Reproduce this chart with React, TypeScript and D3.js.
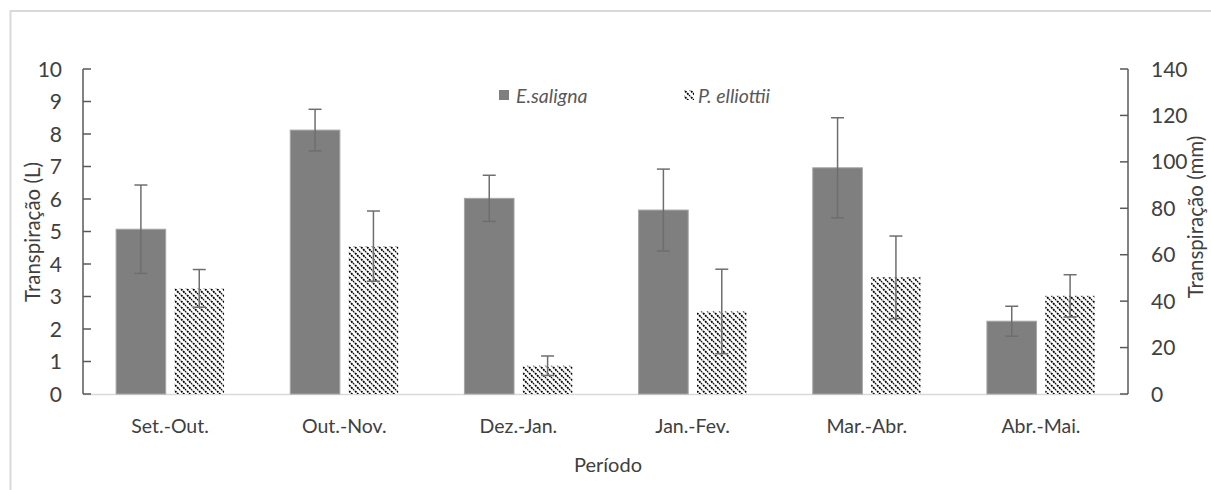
import React from "react";
import * as d3 from "d3";

const periods = ["Set.-Out.", "Out.-Nov.", "Dez.-Jan.", "Jan.-Fev.", "Mar.-Abr.", "Abr.-Mai."];
const seriesNames = ["E.saligna", "P. elliottii"];
const salignaValues = [5.07, 8.12, 6.02, 5.66, 6.96, 2.24];
const salignaErrors = [1.36, 0.64, 0.71, 1.26, 1.54, 0.46];
const elliottiiValues = [3.25, 4.55, 0.87, 2.54, 3.59, 3.02];
const elliottiiErrors = [0.58, 1.08, 0.3, 1.3, 1.27, 0.65];
const leftTicks = [0, 1, 2, 3, 4, 5, 6, 7, 8, 9, 10];
const rightTicks = [0, 20, 40, 60, 80, 100, 120, 140];

const W = 1211;
const H = 490;
const FONT = "Lato, 'Open Sans', sans-serif";
const TEXT = "#404040";
const AXIS = "#595959";

export default function App() {
  const left = 83;
  const right = 1128;
  const top = 69;
  const bottom = 394;

  const x = d3.scaleBand<string>().domain(periods).range([left, right]).paddingInner(0.38).paddingOuter(0.19);
  const xs = d3.scaleBand<string>().domain(seriesNames).range([0, x.bandwidth()]).paddingInner(0.15).paddingOuter(0);
  const yL = d3.scaleLinear().domain([0, 10]).range([bottom, top]);
  const yR = d3.scaleLinear().domain([0, 140]).range([bottom, top]);

  const series = [
    { name: seriesNames[0], values: salignaValues, errors: salignaErrors, fill: "#7f7f7f", stroke: "#a6a6a6" },
    { name: seriesNames[1], values: elliottiiValues, errors: elliottiiErrors, fill: "url(#hatch)", stroke: "none" },
  ];

  return (
    <svg width={W} height={H} style={{ position: "absolute", left: 0, top: 0, background: "#fff" }} fontFamily={FONT}>
      <defs>
        <pattern id="hatch" patternUnits="userSpaceOnUse" width="6" height="6">
          <rect width="6" height="6" fill="#fff" />
          <path d="M-1,-1 L7,7 M-4,2 L2,8 M4,-2 L8,2" stroke="#000" strokeWidth="1.8" strokeDasharray="2 0.9" />
        </pattern>
      </defs>
      {/* chart area frame */}
      <rect x={10.5} y={11} width={W + 20} height={H + 20} fill="none" stroke="#d9d9d9" strokeWidth={2} />

      {/* baseline */}
      <line x1={left} x2={right} y1={bottom + 0.5} y2={bottom + 0.5} stroke="#d9d9d9" strokeWidth={1.5} />

      {/* bars */}
      {series.map((s) =>
        periods.map((p, i) => {
          const bx = (x(p) as number) + (xs(s.name) as number);
          const bw = xs.bandwidth();
          return (
            <rect key={s.name + p} x={bx} y={yL(s.values[i])} width={bw} height={bottom - yL(s.values[i])} fill={s.fill} stroke={s.stroke} strokeWidth={1} />
          );
        })
      )}

      {/* error bars */}
      {series.map((s) =>
        periods.map((p, i) => {
          const cx = (x(p) as number) + (xs(s.name) as number) + xs.bandwidth() / 2;
          const hi = yL(s.values[i] + s.errors[i]);
          const lo = yL(s.values[i] - s.errors[i]);
          return (
            <g key={"e" + s.name + p} stroke="#6e6e6e" strokeWidth={1.5}>
              <line x1={cx} x2={cx} y1={hi} y2={lo} />
              <line x1={cx - 6.5} x2={cx + 6.5} y1={hi} y2={hi} />
              <line x1={cx - 6.5} x2={cx + 6.5} y1={lo} y2={lo} />
            </g>
          );
        })
      )}

      {/* left axis */}
      <line x1={left} x2={left} y1={top} y2={bottom} stroke={AXIS} strokeWidth={1.5} />
      {leftTicks.map((t) => (
        <g key={"l" + t}>
          <line x1={left} x2={left + 8} y1={yL(t)} y2={yL(t)} stroke={AXIS} strokeWidth={1.5} />
          <text x={62} y={yL(t)} dy="0.36em" textAnchor="end" fontSize={21} fill={TEXT}>{t}</text>
        </g>
      ))}

      {/* right axis */}
      <line x1={right} x2={right} y1={top} y2={bottom} stroke={AXIS} strokeWidth={1.5} />
      {rightTicks.map((t) => (
        <g key={"r" + t}>
          <line x1={right - 8} x2={right} y1={yR(t)} y2={yR(t)} stroke={AXIS} strokeWidth={1.5} />
          <text x={1151} y={yR(t)} dy="0.36em" textAnchor="start" fontSize={21} fill={TEXT}>{t}</text>
        </g>
      ))}

      {/* category labels */}
      {periods.map((p) => (
        <text key={"c" + p} x={(x(p) as number) + x.bandwidth() / 2} y={433} textAnchor="middle" fontSize={19.5} fill={TEXT}>{p}</text>
      ))}

      {/* axis titles */}
      <text x={608} y={472} textAnchor="middle" fontSize={20} fill={TEXT}>Período</text>
      <text transform={`translate(40,${232}) rotate(-90)`} textAnchor="middle" fontSize={20.5} fill={TEXT}>Transpiração (L)</text>
      <text transform={`translate(1203,${217}) rotate(-90)`} textAnchor="middle" fontSize={20.5} fill={TEXT}>Transpiração (mm)</text>

      {/* legend */}
      <rect x={499} y={90} width={10} height={10} fill="#7f7f7f" />
      <text x={516} y={103} fontSize={19.5} fontStyle="italic" fill="#595959">{seriesNames[0]}</text>
      <rect x={684} y={90} width={10} height={10} fill="url(#hatch)" />
      <text x={698} y={103} fontSize={19.5} fontStyle="italic" fill="#595959">{seriesNames[1]}</text>
    </svg>
  );
}
